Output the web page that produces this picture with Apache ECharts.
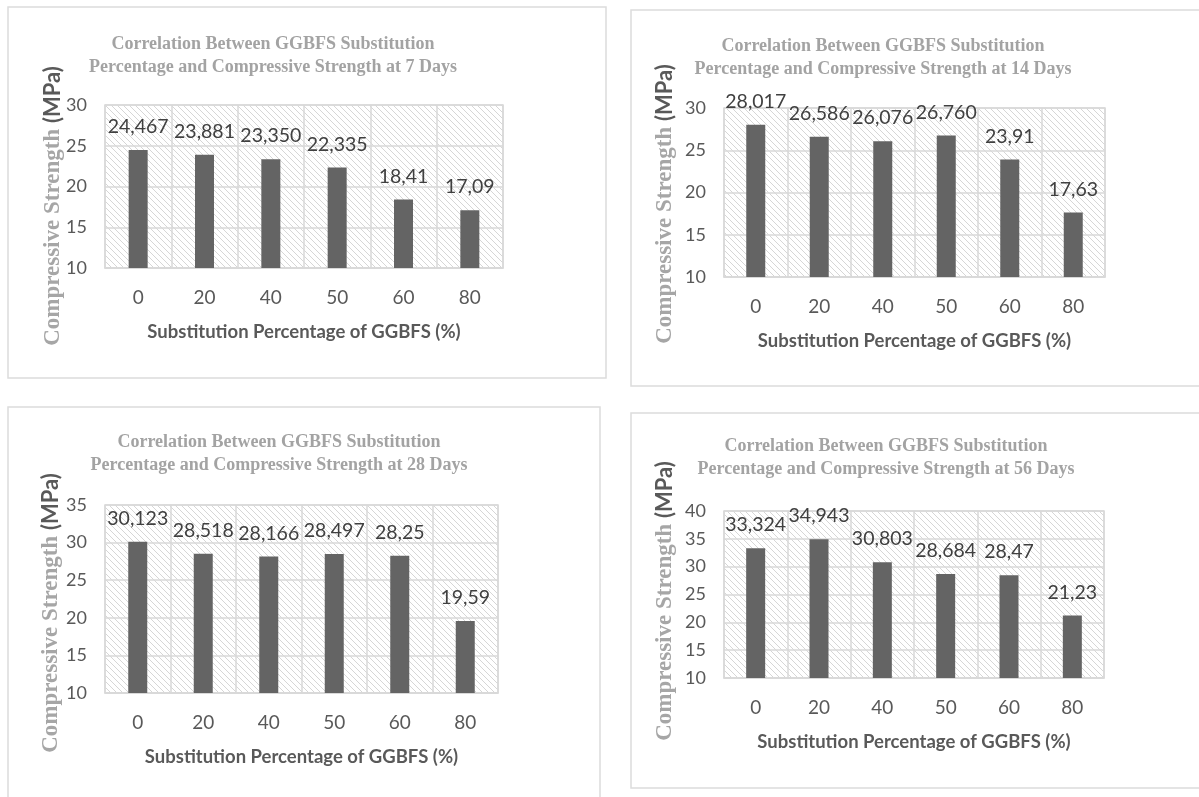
<!DOCTYPE html>
<html>
<head>
<meta charset="utf-8">
<script src="https://cdn.jsdelivr.net/npm/echarts@6/dist/echarts.min.js"></script>
<style>
  html, body { margin: 0; padding: 0; background: #ffffff; }
  #chart { width: 1199px; height: 797px; }
</style>
</head>
<body>
<div id="chart"></div>
<script>
// GGBFS replacement level (%) on the x axis
const categories = ['0', '20', '40', '50', '60', '80'];

// Compressive strength (MPa) for each curing age
const strength7 = [24.467, 23.881, 23.350, 22.335, 18.41, 17.09];
const strength14 = [28.017, 26.586, 26.076, 26.760, 23.91, 17.63];
const strength28 = [30.123, 28.518, 28.166, 28.497, 28.25, 19.59];
const strength56 = [33.324, 34.943, 30.803, 28.684, 28.47, 21.23];

// decimals shown in each bar label (comma as decimal separator)
const labelDecimals = [3, 3, 3, 3, 2, 2];

const ages = ['7', '14', '28', '56'];
const seriesValues = [strength7, strength14, strength28, strength56];
const yMin = 10;
const yMaxes = [30, 30, 35, 40];
const yStep = 5;

const xName = 'Substitution Percentage of GGBFS (%)';

// panel layout: frame, plot area, title centre and y-name centre
const panels = [
  { frame: [8, 7, 598, 371],   grid: { left: 105, top: 105, width: 398, height: 163 }, titleX: 268, titleTop: 28,  yNameX: 53,  yNameY: 206 },
  { frame: [631, 10, 600, 376], grid: { left: 724, top: 108, width: 381, height: 169 }, titleX: 878, titleTop: 30,  yNameX: 665, yNameY: 204 },
  { frame: [8, 407, 592, 400], grid: { left: 105, top: 505, width: 393, height: 188 }, titleX: 274, titleTop: 426, yNameX: 51,  yNameY: 613 },
  { frame: [631, 413, 600, 375], grid: { left: 724, top: 511, width: 380, height: 167 }, titleX: 881, titleTop: 430, yNameX: 665, yNameY: 601 }
];

const gridLine = '#d9d9d9';
const tickColor = '#595959';

// diagonal hatch used as the plot-area fill
function makeHatch() {
  const s = 6;
  const c = document.createElement('canvas');
  c.width = s; c.height = s;
  const ctx = c.getContext('2d');
  ctx.fillStyle = '#ffffff';
  ctx.fillRect(0, 0, s, s);
  ctx.strokeStyle = '#d6d6d6';
  ctx.lineWidth = 1;
  ctx.beginPath();
  ctx.moveTo(-1, -1); ctx.lineTo(s + 1, s + 1);
  ctx.moveTo(-1, s - 1); ctx.lineTo(1, s + 1);
  ctx.moveTo(s - 1, -1); ctx.lineTo(s + 1, 1);
  ctx.stroke();
  return c;
}
const hatch = makeHatch();

const chart = echarts.init(document.getElementById('chart'), null, { renderer: 'canvas' });

const option = {
  backgroundColor: '#ffffff',
  animation: false,
  title: panels.map((p, i) => ({
    text: 'Correlation Between GGBFS Substitution\nPercentage and Compressive Strength at ' + ages[i] + ' Days',
    left: p.titleX,
    top: p.titleTop,
    textAlign: 'center',
    textStyle: {
      fontFamily: 'Liberation Serif',
      fontWeight: 'bold',
      fontSize: 18,
      lineHeight: 23,
      color: '#a3a3a3'
    }
  })),
  grid: panels.map(p => ({
    left: p.grid.left,
    top: p.grid.top,
    width: p.grid.width,
    height: p.grid.height,
    show: true,
    backgroundColor: { image: hatch, repeat: 'repeat' },
    borderColor: gridLine,
    borderWidth: 1.5
  })),
  xAxis: panels.map((p, i) => ({
    type: 'category',
    gridIndex: i,
    data: categories,
    boundaryGap: true,
    axisTick: { show: false },
    axisLine: { show: true, lineStyle: { color: gridLine, width: 1.5 } },
    splitLine: { show: true, lineStyle: { color: gridLine, width: 1.5 } },
    axisLabel: { margin: 20, fontFamily: 'Lato', fontSize: 19, color: tickColor },
    name: xName,
    nameLocation: 'middle',
    nameGap: 55,
    nameTextStyle: { fontFamily: 'Lato', fontWeight: 'bold', fontSize: 18.5, color: tickColor }
  })),
  yAxis: panels.map((p, i) => ({
    type: 'value',
    gridIndex: i,
    min: yMin,
    max: yMaxes[i],
    interval: yStep,
    axisLine: { show: false },
    axisTick: { show: false },
    splitLine: { show: true, lineStyle: { color: gridLine, width: 1.5 } },
    axisLabel: { margin: 18, fontFamily: 'Lato', fontSize: 18, color: tickColor }
  })),
  series: seriesValues.map((vals, i) => ({
    type: 'bar',
    xAxisIndex: i,
    yAxisIndex: i,
    data: vals,
    barWidth: 19,
    itemStyle: { color: '#646464' },
    label: {
      show: true,
      position: 'top',
      distance: 13,
      fontFamily: 'Lato',
      fontSize: 19.5,
      color: '#404040',
      formatter: prm => prm.value.toFixed(labelDecimals[prm.dataIndex]).replace('.', ',')
    }
  })),
  graphic: [
    ...panels.map(p => ({
      type: 'rect',
      silent: true,
      z: -10,
      shape: { x: p.frame[0], y: p.frame[1], width: p.frame[2], height: p.frame[3] },
      style: { fill: 'none', stroke: '#dcdcdc', lineWidth: 1.5 }
    })),
    ...panels.map(p => ({
      type: 'text',
      silent: true,
      x: p.yNameX,
      y: p.yNameY,
      rotation: Math.PI / 2,
      style: {
        text: '{s|Compressive Strength }{m|(MPa)}',
        align: 'center',
        verticalAlign: 'middle',
        rich: {
          s: { fontFamily: 'Liberation Serif', fontWeight: 'bold', fontSize: 23, fill: '#a6a6a6' },
          m: { fontFamily: 'Lato', fontWeight: 'bold', fontSize: 22, fill: '#595959' }
        }
      }
    }))
  ]
};

chart.setOption(option);
</script>
</body>
</html>
